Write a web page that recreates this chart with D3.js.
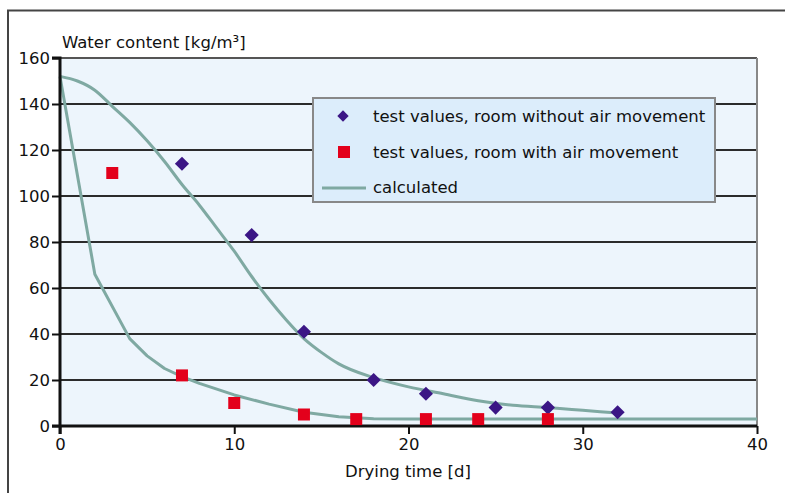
<!DOCTYPE html>
<html><head><meta charset="utf-8">
<script src="https://cdn.jsdelivr.net/npm/d3@7"></script>
<style>body{margin:0;background:#fff;}svg{display:block;font-family:"DejaVu Sans",sans-serif;}</style>
</head><body>
<svg id="c" width="785" height="493"></svg>
<script>
const yTicks = [0,20,40,60,80,100,120,140,160];
const xTicks = [0,10,20,30,40];
const noAirX = [7,11,14,18,21,25,28,32];
const noAirY = [114,83,41,20,14,8,8,6];
const airX = [3,7,10,14,17,21,24,28];
const airY = [110,22,10,5,3,3,3,3];
const calcSlowX = [0,1,2,3,4,5,6,7,8,9,10,11,12,13,14,15,16,18,20,22,24,26,28,30,32];
const calcSlowY = [152,150,146,139,132,124,115,105,96,86,76,65,55,46,38,32,27,21,17,14,11,9,8,6.8,5.6];
const calcFastX = [0,2,4,5,6,7,8,10,12,14,16,18,20,25,30,35,40];
const calcFastY = [152,66,38,30.5,25,21.5,18.5,13.5,9.5,6,4,3.2,3,3,3,3,3];
const legendLabels = ["test values, room without air movement","test values, room with air movement","calculated"];

const svg = d3.select("#c");
const L=60,R=757,T=58,B=426;
const x = d3.scaleLinear().domain([0,40]).range([L,R]);
const y = d3.scaleLinear().domain([0,160]).range([B,T]);
const FS = 16.5;

svg.append("path").attr("d","M8,493V10.5H785").attr("fill","none").attr("stroke","#444").attr("stroke-width",2);

svg.append("rect").attr("x",L).attr("y",T).attr("width",R-L).attr("height",B-T).attr("fill","#edf5fc");

svg.append("g").selectAll("line").data(yTicks.filter(d=>d>0)).join("line")
 .attr("x1",L).attr("x2",R).attr("y1",d=>y(d)).attr("y2",d=>y(d))
 .attr("stroke",(d)=>d===160?"#555":"#2b2b2b").attr("stroke-width",2);
svg.append("line").attr("x1",R).attr("x2",R).attr("y1",T).attr("y2",B).attr("stroke","#888").attr("stroke-width",2);

const cc="#7fa9a2";
const lineLin = d3.line().x(d=>x(d[0])).y(d=>y(d[1])).curve(d3.curveLinear);
const lineMono = d3.line().x(d=>x(d[0])).y(d=>y(d[1])).curve(d3.curveMonotoneX);
svg.append("path").attr("d",lineLin(calcFastX.map((v,i)=>[v,calcFastY[i]]))).attr("fill","none").attr("stroke",cc).attr("stroke-width",3).attr("stroke-linejoin","round");
svg.append("path").attr("d",lineMono(calcSlowX.map((v,i)=>[v,calcSlowY[i]]))).attr("fill","none").attr("stroke",cc).attr("stroke-width",3);

const ya = d3.axisLeft(y).tickValues(yTicks).tickSize(8).tickPadding(2);
const gy = svg.append("g").attr("transform",`translate(${L},0)`).call(ya);
const xa = d3.axisBottom(x).tickValues(xTicks).tickSize(8).tickPadding(4);
const gx = svg.append("g").attr("transform",`translate(0,${B})`).call(xa);
[gy,gx].forEach(g=>{
  g.select(".domain").attr("stroke","#111").attr("stroke-width",3);
  g.selectAll(".tick line").attr("stroke","#111").attr("stroke-width",2);
  g.selectAll("text").attr("font-size",FS).attr("fill","#111").attr("font-family","DejaVu Sans");
});
gy.select(".domain").attr("d",`M-8,${T}H0V${B+8}`);
gx.select(".domain").attr("d",`M${L-8},0H${R}`);

svg.append("g").selectAll("path").data(noAirX.map((v,i)=>[v,noAirY[i]])).join("path")
 .attr("d",d3.symbol(d3.symbolSquare,100)())
 .attr("transform",d=>`translate(${x(d[0])},${y(d[1])}) rotate(45)`).attr("fill","#3b1685");
svg.append("g").selectAll("rect").data(airX.map((v,i)=>[v,airY[i]])).join("rect")
 .attr("x",d=>x(d[0])-6).attr("y",d=>y(d[1])-6).attr("width",12).attr("height",12).attr("fill","#e3001b");

const lg = svg.append("g");
lg.append("rect").attr("x",313).attr("y",98).attr("width",402).attr("height",104).attr("fill","#dcedfb").attr("stroke","#888").attr("stroke-width",2);
lg.append("path").attr("d",d3.symbol(d3.symbolSquare,64)()).attr("transform","translate(343,116) rotate(45)").attr("fill","#3b1685");
lg.append("rect").attr("x",338).attr("y",146).attr("width",12).attr("height",12).attr("fill","#e3001b");
lg.append("line").attr("x1",322).attr("x2",366).attr("y1",188).attr("y2",188).attr("stroke",cc).attr("stroke-width",3);
lg.selectAll("text").data(legendLabels).join("text")
 .attr("x",373).attr("y",(d,i)=>122+i*35.5).attr("font-size",FS).attr("fill","#111").text(d=>d);

svg.append("text").attr("x",62).attr("y",48).attr("font-size",FS).attr("fill","#111").text("Water content [kg/m³]");
svg.append("text").attr("x",408).attr("y",477).attr("text-anchor","middle").attr("font-size",FS).attr("fill","#111").text("Drying time [d]");
</script>
</body></html>
